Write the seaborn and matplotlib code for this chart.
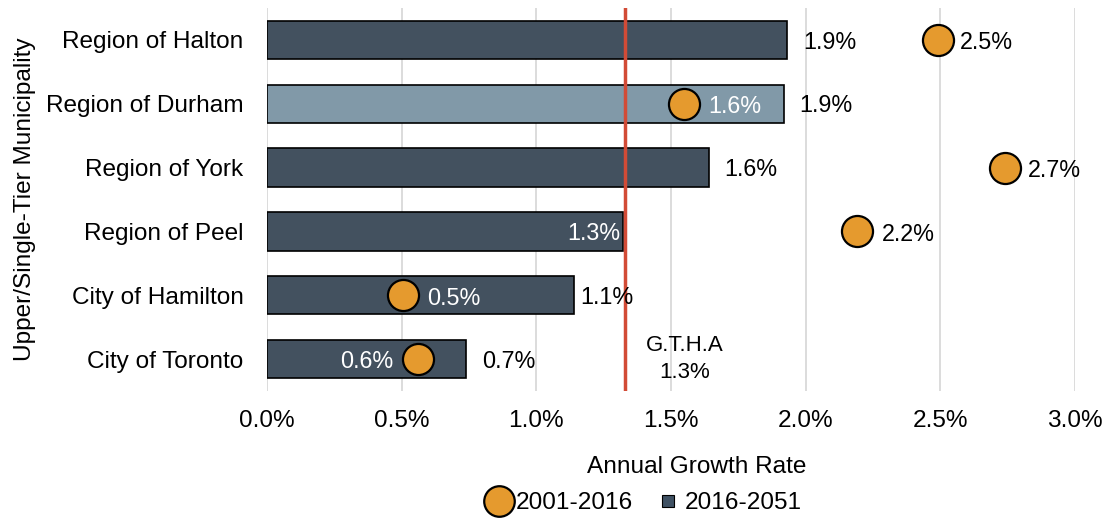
import numpy as np
import pandas as pd
import matplotlib
matplotlib.use('Agg')
import matplotlib.pyplot as plt
from matplotlib.lines import Line2D
import seaborn as sns

# data
municipalities = ['Region of Halton', 'Region of Durham', 'Region of York',
                  'Region of Peel', 'City of Hamilton', 'City of Toronto']
rate_2016_2051 = [1.93, 1.92, 1.64, 1.32, 1.14, 0.74]
rate_2001_2016 = [2.49, 1.55, 2.74, 2.19, 0.505, 0.56]
bar_labels = ['1.9%', '1.9%', '1.6%', '1.3%', '1.1%', '0.7%']
dot_labels = ['2.5%', '1.6%', '2.7%', '2.2%', '0.5%', '0.6%']
highlight = ['no', 'yes', 'no', 'no', 'no', 'no']
gtha_rate = 1.33
gtha_label = 'G.T.H.A\n1.3%'

# label placement: (offset px, colour, ha)
bar_lab_style = [(16, 'black', 'left'), (15, 'black', 'left'), (16, 'black', 'left'),
                 (-2, 'white', 'right'), (6, 'black', 'left'), (16, 'black', 'left')]
dot_lab_style = [(22, 'black', 'left'), (24, 'white', 'left'), (23, 'black', 'left'),
                 (25, 'black', 'left'), (24, 'white', 'left'), (-24, 'white', 'right')]

plt.rcParams['font.family'] = ['Liberation Sans', 'DejaVu Sans']

dark = '#3F5163'
light = '#7A9AAF'
orange = '#E59A2E'
red = '#D24B36'

df = pd.DataFrame({'municipality': municipalities,
                   'new': rate_2016_2051,
                   'old': rate_2001_2016,
                   'hl': highlight})
df['pos'] = np.arange(len(df))

fig = plt.figure(figsize=(11.05, 5.18), dpi=100)
ax = fig.add_axes([267 / 1105, 1 - 391 / 518, (1075 - 267) / 1105, (391 - 8) / 518])

sns.barplot(data=df, x='new', y='municipality', hue='hl',
            palette={'no': dark, 'yes': light}, dodge=False, width=0.6,
            edgecolor='black', linewidth=1.2, legend=False, ax=ax, zorder=2)
ax.axvline(gtha_rate, color=red, lw=2.5, zorder=3)
ax.scatter(df['old'], df['pos'], s=500, color=orange, edgecolor='black',
           linewidth=1.6, zorder=4, clip_on=False)

pt = 72 / 100
for i, row in df.iterrows():
    off, col, ha = bar_lab_style[i]
    ax.annotate(bar_labels[i], (row['new'], row['pos']), xytext=(off * pt, -1.5),
                textcoords='offset points', ha=ha, va='center', color=col,
                fontsize=16.8, zorder=5, annotation_clip=False)
    off, col, ha = dot_lab_style[i]
    ax.annotate(dot_labels[i], (row['old'], row['pos']), xytext=(off * pt, -2),
                textcoords='offset points', ha=ha, va='center', color=col,
                fontsize=16.8, zorder=5, annotation_clip=False)

ax.text(1.55, 5.0, gtha_label, ha='center', va='center', fontsize=16,
        linespacing=1.35)

ax.set_xlim(0, 3.0)
ax.set_ylim(5.5, -0.5)
ax.set_xticks(np.arange(0, 3.01, 0.5))
ax.set_xticklabels([f'{v:.1f}%' for v in np.arange(0, 3.01, 0.5)])
ax.grid(axis='x', color='#d9d9d9', lw=1.3, zorder=0)
ax.set_axisbelow(True)
for s in ax.spines.values():
    s.set_visible(False)
ax.tick_params(axis='x', length=0, pad=14, labelsize=17.6)
ax.tick_params(axis='y', length=0, pad=17, labelsize=17.6)
ax.set_xlabel('')
ax.set_ylabel('Upper/Single-Tier Municipality', fontsize=17.6)
ax.yaxis.set_label_coords((36 - 267) / 808, 0.5)

fig.text(697 / 1105, 1 - 467 / 518, 'Annual Growth Rate', ha='center',
         va='center', fontsize=17.6)

handles = [Line2D([], [], marker='o', ls='', markersize=22, markerfacecolor=orange,
                  markeredgecolor='black', markeredgewidth=1.6),
           Line2D([], [], marker='s', ls='', markersize=8, markerfacecolor=dark,
                  markeredgecolor='black', markeredgewidth=0.8)]
fig.legend(handles, ['2001-2016', '2016-2051'], loc='center', ncol=2,
           bbox_to_anchor=(643 / 1105, 1 - 503 / 518), frameon=False,
           fontsize=17.6, handletextpad=0.1, columnspacing=0.8, handlelength=1.2)

fig.savefig('out.png', dpi=100)
